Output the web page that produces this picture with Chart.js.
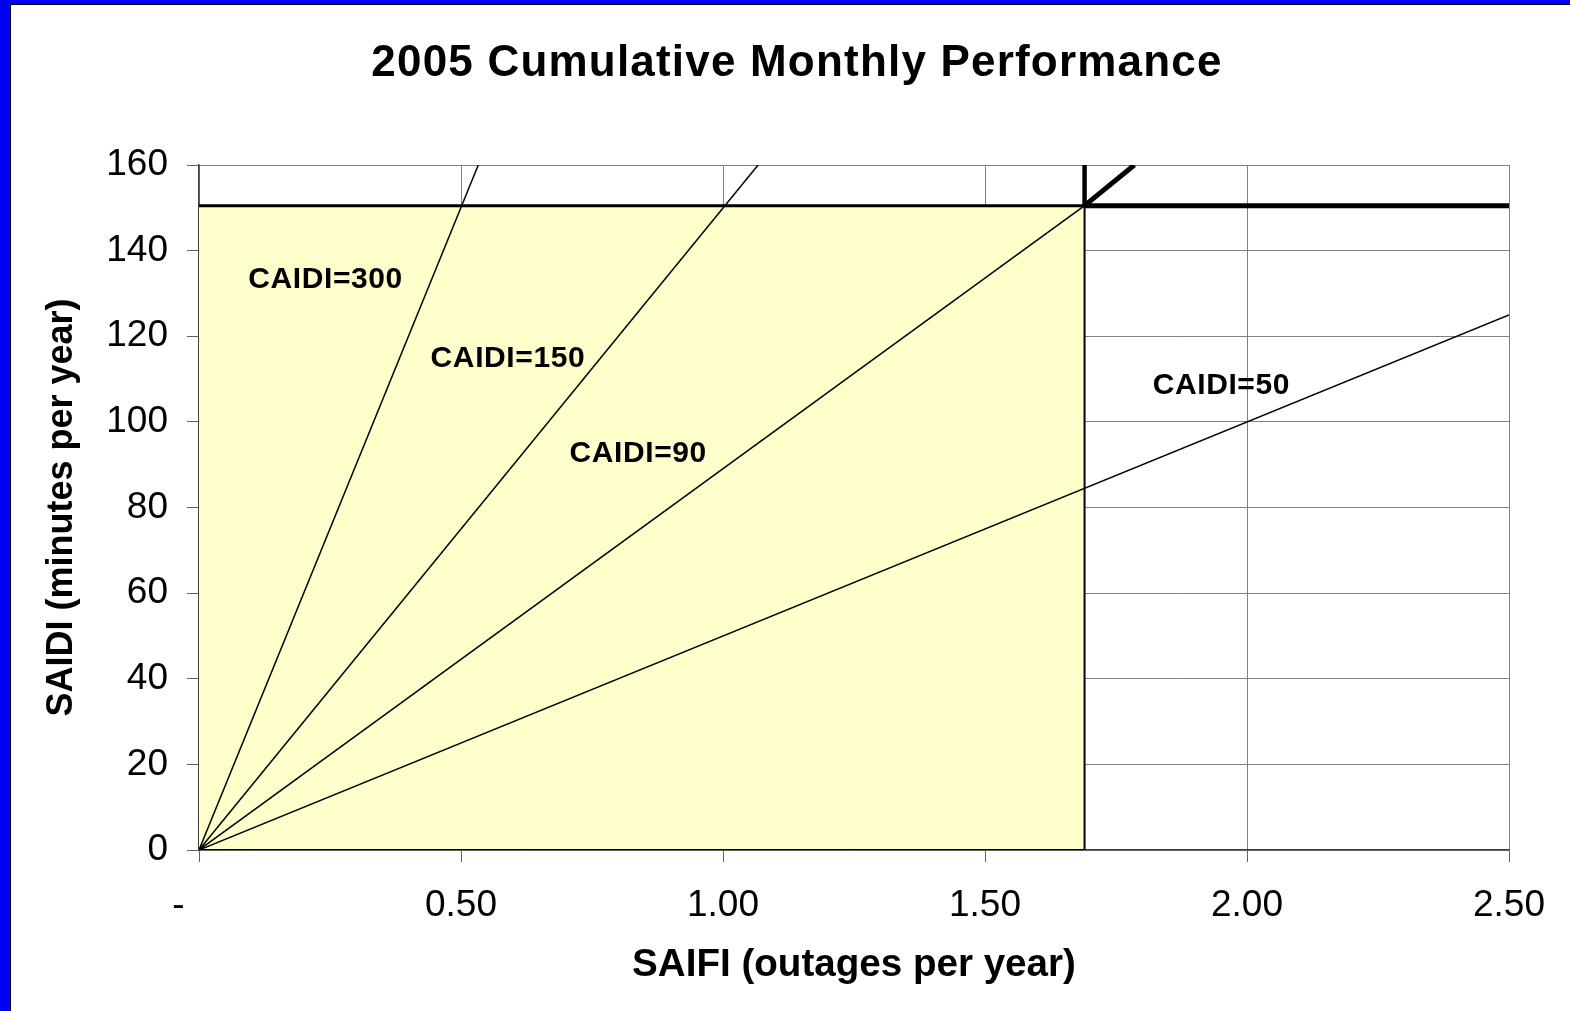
<!DOCTYPE html>
<html>
<head>
<meta charset="utf-8">
<script src="https://cdn.jsdelivr.net/npm/chart.js@4"></script>
<style>
  html, body { margin: 0; padding: 0; background: #0000ff; overflow: hidden; }
  #frame {
    position: absolute; left: 10px; top: 4px;
    width: 1560px; height: 1007px;
    background: #fff;
    border-left: 1px solid #000; border-top: 1px solid #000;
  }
  canvas { display: block; }
</style>
</head>
<body>
<div id="frame"><canvas id="chart" width="1559" height="1006"></canvas></div>
<script>
// values
const chartTitle = "2005 Cumulative Monthly Performance";
const caidiNames = ["CAIDI=300", "CAIDI=150", "CAIDI=90", "CAIDI=50"];
const caidiEndSaifi = [0.533, 1.067, 1.69, 2.5];
const caidiEndSaidi = [160, 160, 150.5, 125];
const targetSaifi = 1.69;
const targetSaidi = 150.5;
const diagEnd = [1.785, 160];
const xTickValues = [0, 0.5, 1.0, 1.5, 2.0, 2.5];
const xTickLabels = ["-    ", "0.50", "1.00", "1.50", "2.00", "2.50"];
const yTickValues = [0, 20, 40, 60, 80, 100, 120, 140, 160];

// where the CAIDI labels sit, in data units (left edge, middle)
const labelAnchors = [[0.094, 133.3], [0.442, 114.7], [0.707, 92.5], [1.82, 108.4]];

const FONT = '"Liberation Sans", Arial, sans-serif';

function seg(a, b, width, extra) {
  return Object.assign({
    data: [{x: a[0], y: a[1]}, {x: b[0], y: b[1]}],
    showLine: true,
    borderColor: '#000',
    borderWidth: width,
    pointRadius: 0,
    fill: false,
    order: 0
  }, extra || {});
}

const datasets = [];
// yellow target box
datasets.push(seg([0, targetSaidi], [targetSaifi, targetSaidi], 3, {
  fill: 'origin', backgroundColor: '#ffffcc', order: 10
}));
datasets.push(seg([targetSaifi, targetSaidi], [targetSaifi, 0], 2, {order: 5}));
datasets.push(seg([0, 0], [targetSaifi, 0], 2, {order: 5}));
// CAIDI lines
caidiEndSaifi.forEach((sx, i) => {
  datasets.push(seg([0, 0], [sx, caidiEndSaidi[i]], 1.5, {order: 4}));
});
// thick target lines
datasets.push(seg([targetSaifi, targetSaidi], [2.5, targetSaidi], 5));
datasets.push(seg([targetSaifi, targetSaidi], [targetSaifi, 160], 4.5));
datasets.push(seg([targetSaifi, targetSaidi], diagEnd, 5));

const textPlugin = {
  id: 'texts',
  afterDatasetsDraw(chart) {
    const ctx = chart.ctx;
    const xs = chart.scales.x, ys = chart.scales.y;
    ctx.save();
    ctx.fillStyle = '#000';
    ctx.font = 'bold 30px ' + FONT;
    ctx.letterSpacing = '0.6px';
    ctx.textAlign = 'left';
    ctx.textBaseline = 'middle';
    caidiNames.forEach((t, i) => {
      const a = labelAnchors[i];
      ctx.fillText(t, xs.getPixelForValue(a[0]), ys.getPixelForValue(a[1]));
    });
    ctx.restore();
  },
  afterDraw(chart) {
    const ctx = chart.ctx;
    ctx.save();
    ctx.fillStyle = '#000';
    ctx.font = 'bold 44px ' + FONT;
    ctx.letterSpacing = '1.2px';
    ctx.textAlign = 'center';
    ctx.textBaseline = 'middle';
    ctx.fillText(chartTitle, 786, 59);
    ctx.restore();
  }
};

new Chart(document.getElementById('chart'), {
  type: 'scatter',
  data: { datasets: datasets },
  plugins: [textPlugin],
  options: {
    responsive: false,
    animation: false,
    layout: { padding: { top: 160, right: 61, bottom: 0, left: 0 } },
    plugins: { legend: { display: false }, tooltip: { enabled: false } },
    scales: {
      x: {
        type: 'linear', min: 0, max: 2.5,
        afterFit(s) { s.height = 161; },
        afterBuildTicks(s) { s.ticks = xTickValues.map(v => ({value: v})); },
        ticks: {
          font: { family: FONT, size: 37 }, color: '#000', padding: 22,
          maxRotation: 0, autoSkip: false,
          callback: (v) => xTickLabels[xTickValues.indexOf(v)]
        },
        grid: { color: '#808080', lineWidth: 1, tickLength: 12, tickColor: '#606060' },
        border: { color: '#404040', width: 1.5 },
        title: {
          display: true, text: 'SAIFI (outages per year)', color: '#000',
          font: { family: FONT, size: 38.6, weight: 'bold' }, padding: { top: 0, bottom: 22 }
        }
      },
      y: {
        type: 'linear', min: 0, max: 160,
        afterFit(s) { s.width = 188; },
        afterBuildTicks(s) { s.ticks = yTickValues.map(v => ({value: v})); },
        ticks: { font: { family: FONT, size: 37 }, color: '#000', padding: 19 },
        grid: { color: '#808080', lineWidth: 1, tickLength: 12, tickColor: '#606060' },
        border: { color: '#404040', width: 1.5 },
        title: {
          display: true, text: 'SAIDI (minutes per year)', color: '#000',
          font: { family: FONT, size: 36, weight: 'bold' }, padding: { top: 29, bottom: 0 }
        }
      }
    }
  }
});
</script>
</body>
</html>
